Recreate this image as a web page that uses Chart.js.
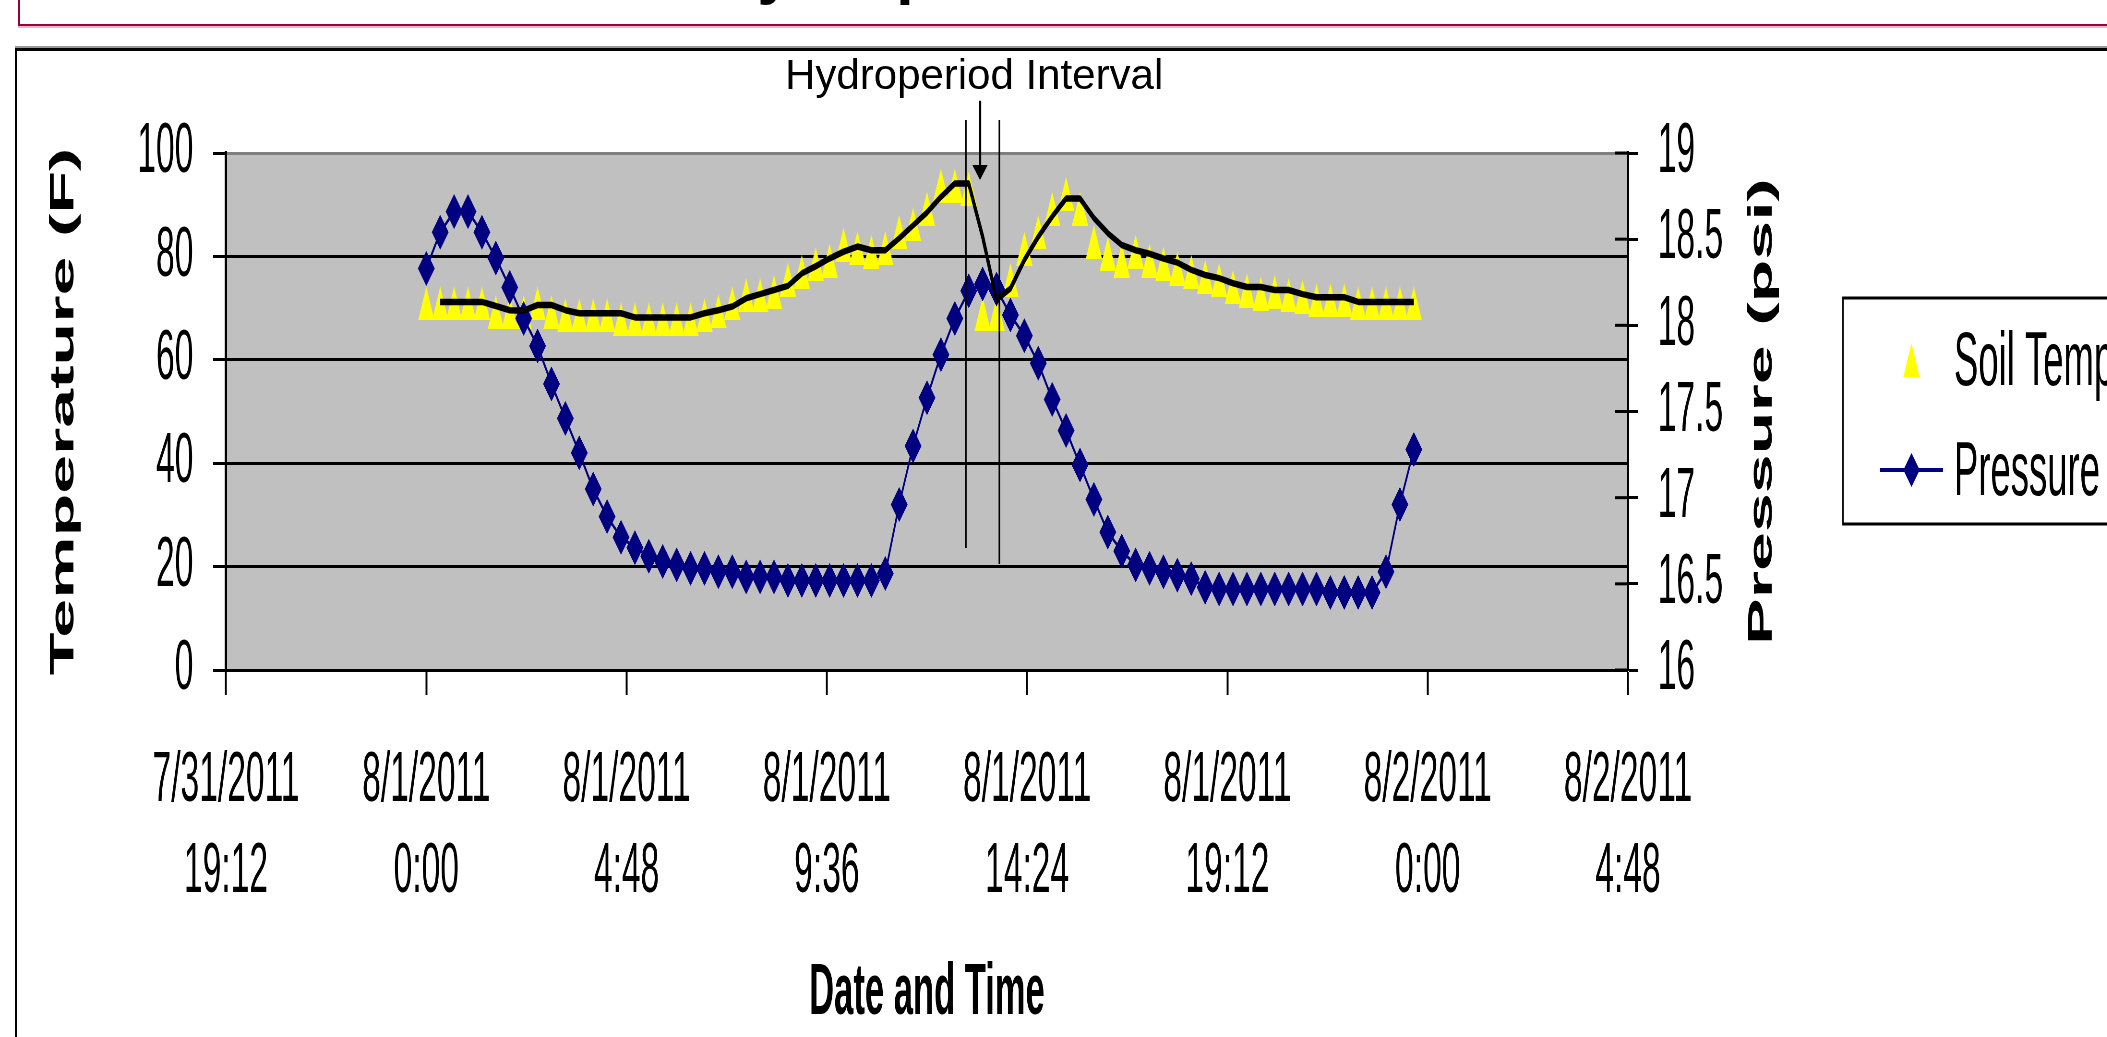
<!DOCTYPE html>
<html><head><meta charset="UTF-8"><title>Hydroperiod</title>
<script src="https://cdn.jsdelivr.net/npm/chart.js@4.4.1/dist/chart.umd.min.js"></script>
<style>
    html, body { margin: 0; background: #fff; overflow: hidden; width: 2107px; height: 1037px; }
    .titlebox { position: absolute; left: 18px; top: 0; width: 2200px; height: 24px; border-left: 2px solid #99003d; border-bottom: 2px solid #99003d; box-shadow: 0 2px 0 #e8b8c8; }
    .maintitle { position: absolute; left: 711px; top: -62px; font: bold 64px 'Liberation Sans', Arial, sans-serif; line-height: 64px; white-space: nowrap; }
    .shade { position: absolute; left: 15px; top: 46px; width: 2200px; height: 2px; background: #9a9a9a; }
    .frame { position: absolute; left: 15px; top: 48px; width: 2200px; height: 1100px; border-top: 3px solid #000; border-left: 2px solid #000; }
    #wrap { position: absolute; left: 0; top: 0; transform-origin: 0 0; }
</style></head><body>

<div class="titlebox"></div>
<div class="maintitle">Hydroperiod</div>
<div class="shade"></div>
<div class="frame"></div>
<div id="wrap"><canvas id="c"></canvas></div>

<script>
// the original chart is squeezed sideways, so the canvas is drawn wide and scaled down in x
const S = 0.48;
const W = Math.ceil(2107 / S), H = 1037;
const FONT = "'Liberation Sans', Arial, sans-serif";

// readings every 20 minutes on 8/1/2011
const times = ['0:00','0:20','0:40','1:00','1:20','1:40','2:00','2:20','2:40','3:00','3:20','3:40',
    '4:00','4:20','4:40','5:00','5:20','5:40','6:00','6:20','6:40','7:00','7:20','7:40',
    '8:00','8:20','8:40','9:00','9:20','9:40','10:00','10:20','10:40','11:00','11:20','11:40',
    '12:00','12:20','12:40','13:00','13:20','13:40','14:00','14:20','14:40','15:00','15:20','15:40',
    '16:00','16:20','16:40','17:00','17:20','17:40','18:00','18:20','18:40','19:00','19:20','19:40',
    '20:00','20:20','20:40','21:00','21:20','21:40','22:00','22:20','22:40','23:00','23:20','23:40'];

const soilTemp = [70.9, 70.9, 70.9, 70.9, 70.9, 69.2, 69.2, 69.2, 70.9, 69.2,
    68.6, 68.6, 68.6, 68.6, 67.8, 67.8, 67.8, 67.8, 67.8, 67.8,
    68.6, 69.4, 70.9, 72.5, 72.5, 73.1, 75.5, 77.0, 78.5, 79.2,
    82.3, 81.6, 80.9, 81.6, 84.7, 86.2, 89.2, 93.7, 93.7, 93.1,
    68.9, 68.9, 75.4, 81.5, 84.7, 89.2, 92.1, 89.2, 82.8, 80.5,
    79.2, 80.9, 79.2, 78.6, 77.6, 77.0, 76.0, 75.4, 74.1, 73.4,
    72.8, 73.1, 72.5, 72.2, 71.5, 71.5, 71.5, 70.9, 70.9, 70.9,
    70.9, 70.9];

// black moving-average trend of the soil temperature
const tempTrend = [null, 71.2, 71.2, 71.2, 71.2, 70.4, 69.6, 69.5, 70.6, 70.6,
    69.6, 69.0, 69.0, 69.0, 69.0, 68.2, 68.2, 68.2, 68.2, 68.2,
    69.0, 69.6, 70.3, 71.9, 72.7, 73.5, 74.3, 76.7, 78.1, 79.6,
    80.9, 81.9, 81.2, 81.2, 83.5, 86.0, 88.5, 91.5, 94.1, 94.1,
    83.8, 71.6, 73.8, 79.3, 83.8, 87.7, 91.2, 91.2, 87.4, 84.5,
    82.2, 81.2, 80.5, 79.6, 78.8, 77.4, 76.4, 75.8, 74.8, 74.1,
    74.1, 73.5, 73.5, 72.7, 72.1, 72.1, 72.1, 71.2, 71.2, 71.2,
    71.2, 71.2];

const pressure = [18.33, 18.54, 18.66, 18.66, 18.54, 18.39, 18.22, 18.04, 17.88, 17.66,
    17.46, 17.26, 17.05, 16.89, 16.77, 16.71, 16.66, 16.63, 16.61, 16.59,
    16.59, 16.57, 16.57, 16.54, 16.54, 16.54, 16.52, 16.52, 16.52, 16.52,
    16.52, 16.52, 16.52, 16.56, 16.96, 17.30, 17.58, 17.83, 18.04, 18.20,
    18.24, 18.21, 18.06, 17.94, 17.78, 17.57, 17.39, 17.19, 16.99, 16.80,
    16.69, 16.61, 16.59, 16.57, 16.55, 16.53, 16.48, 16.47, 16.47, 16.47,
    16.47, 16.47, 16.47, 16.47, 16.47, 16.45, 16.45, 16.45, 16.45, 16.57,
    16.96, 17.28];

const xTickDates = ['7/31/2011','8/1/2011','8/1/2011','8/1/2011','8/1/2011','8/1/2011','8/2/2011','8/2/2011'];
const xTickTimes = ['19:12','0:00','4:48','9:36','14:24','19:12','0:00','4:48'];

// hydroperiod note, in hours after 8/1 0:00 and in deg F
const hydro = { start: 12.93, end: 13.735, lineTop: 106.4, startBottom: 23.6, endBottom: 20.5,
    arrowAt: 13.27, arrowTop: 110.1, arrowHead: 97.7, arrowTip: 94.8, labelAt: 13.13, labelY: 112.4 };

const hours = times.map(t => { const [h, m] = t.split(':'); return Number(h) + Number(m) / 60; });
const pts = arr => hours.map((h, i) => ({ x: h, y: arr[i] }));

// yellow triangle marker
const tri = document.createElement('canvas');
tri.width = 34; tri.height = 34;
const tc = tri.getContext('2d');
tc.fillStyle = '#ffff00';
tc.beginPath(); tc.moveTo(17, 0); tc.lineTo(34, 34); tc.lineTo(0, 34); tc.closePath(); tc.fill();

const decor = {
    id: 'decor',
    beforeDraw(chart) {
        const { ctx, chartArea: a } = chart;
        ctx.save();
        ctx.fillStyle = '#c0c0c0';
        ctx.fillRect(a.left, a.top, a.right - a.left, a.bottom - a.top);
        ctx.restore();
    },
    afterDraw(chart) {
        const { ctx, scales: { x, y, y2 } } = chart;
        ctx.save();

        // pressure axis ticks cross the axis line
        ctx.strokeStyle = '#000'; ctx.lineWidth = 3;
        y2.ticks.forEach(t => {
            const py = y2.getPixelForValue(t.value);
            ctx.beginPath(); ctx.moveTo(y2.left - 27, py); ctx.lineTo(y2.left, py); ctx.stroke();
        });

        // right axis title reads bottom to top
        ctx.save();
        ctx.translate(y2.left + 280, (y2.top + y2.bottom) / 2);
        ctx.rotate(-Math.PI / 2);
        ctx.fillStyle = '#000'; ctx.font = 'bold 70px ' + FONT;
        ctx.textAlign = 'center'; ctx.textBaseline = 'middle';
        ctx.fillText('Pressure (psi)', 0, 0);
        ctx.restore();

        // hydroperiod interval lines + arrow
        ctx.strokeStyle = '#000'; ctx.lineWidth = 3.5;
        [[hydro.start, hydro.startBottom], [hydro.end, hydro.endBottom]].forEach(([h, b]) => {
            const px = x.getPixelForValue(h);
            ctx.beginPath(); ctx.moveTo(px, y.getPixelForValue(hydro.lineTop)); ctx.lineTo(px, y.getPixelForValue(b)); ctx.stroke();
        });
        const ax = x.getPixelForValue(hydro.arrowAt);
        ctx.lineWidth = 5;
        ctx.beginPath(); ctx.moveTo(ax, y.getPixelForValue(hydro.arrowTop)); ctx.lineTo(ax, y.getPixelForValue(hydro.arrowHead)); ctx.stroke();
        ctx.fillStyle = '#000';
        ctx.beginPath();
        ctx.moveTo(ax - 16, y.getPixelForValue(hydro.arrowHead));
        ctx.lineTo(ax + 16, y.getPixelForValue(hydro.arrowHead));
        ctx.lineTo(ax, y.getPixelForValue(hydro.arrowTip));
        ctx.closePath(); ctx.fill();

        // the note text is not squeezed in the original
        ctx.save();
        ctx.translate(x.getPixelForValue(hydro.labelAt), y.getPixelForValue(hydro.labelY));
        ctx.scale(1 / S, 1);
        ctx.font = '42px ' + FONT; ctx.textAlign = 'center'; ctx.textBaseline = 'alphabetic';
        ctx.fillText('Hydroperiod Interval', 0, 0);
        ctx.restore();

        // legend box
        const lx = 1843 / S, mx = 1911.5 / S;
        ctx.lineWidth = 3; ctx.strokeStyle = '#000';
        ctx.strokeRect(lx, 298, W, 226);
        ctx.drawImage(tri, mx - 17, 360 - 17);
        ctx.strokeStyle = '#000080'; ctx.lineWidth = 4;
        ctx.beginPath(); ctx.moveTo(1880 / S, 470); ctx.lineTo(1943 / S, 470); ctx.stroke();
        ctx.fillStyle = '#000080';
        ctx.beginPath(); ctx.moveTo(mx, 453); ctx.lineTo(mx + 17, 470); ctx.lineTo(mx, 487); ctx.lineTo(mx - 17, 470); ctx.closePath(); ctx.fill();
        ctx.fillStyle = '#000'; ctx.font = '76px ' + FONT; ctx.textAlign = 'left'; ctx.textBaseline = 'alphabetic';
        ctx.fillText(chart.data.datasets[0].label, 1954 / S, 385);
        ctx.fillText(chart.data.datasets[2].label, 1954 / S, 495);
        ctx.restore();
    }
};

const cv = document.getElementById('c');
cv.width = W; cv.height = H;
cv.style.width = W + 'px'; cv.style.height = H + 'px';
document.getElementById('wrap').style.transform = 'scaleX(' + S + ')';

new Chart(cv, {
    type: 'line',
    data: {
        datasets: [
            { label: 'Soil Temperature', data: pts(soilTemp), yAxisID: 'y', showLine: false,
              pointStyle: tri, pointRadius: 17, order: 3 },
            { label: 'Trend', data: pts(tempTrend), yAxisID: 'y', borderColor: '#000', borderWidth: 6.5,
              borderJoinStyle: 'round', pointRadius: 0, tension: 0, order: 1 },
            { label: 'Pressure', data: pts(pressure), yAxisID: 'y2', borderColor: '#000080', borderWidth: 3.5,
              pointStyle: 'rectRot', pointRadius: 17, pointBackgroundColor: '#000080', pointBorderColor: '#000080',
              pointBorderWidth: 1, tension: 0, order: 2 }
        ]
    },
    options: {
        responsive: false, animation: false, events: [], devicePixelRatio: 1,
        layout: { padding: { top: 153, left: 0, bottom: 0, right: W - 1628 / S - 400 } },
        plugins: { legend: { display: false }, tooltip: { enabled: false } },
        scales: {
            x: {
                type: 'linear', min: -4.8, max: 28.8,
                ticks: { stepSize: 4.8, autoSkip: false, maxRotation: 0, color: '#000', padding: 41.5,
                         font: { family: FONT, size: 70, lineHeight: 1.3 },
                         callback: (v, i) => [xTickDates[i], xTickTimes[i]] },
                grid: { drawOnChartArea: false, tickLength: 25, tickWidth: 4, tickColor: '#000' },
                border: { color: '#000', width: 3 },
                title: { display: true, text: 'Date and Time', color: '#000', padding: 0,
                         font: { family: FONT, size: 72, weight: 'bold' } },
                afterFit: s => { s.height = H - 670; }
            },
            y: {
                position: 'left', min: 0, max: 100,
                ticks: { stepSize: 20, autoSkip: false, color: '#000', padding: 41, font: { family: FONT, size: 70 }, callback: v => String(v) },
                grid: { color: c => (c.tick && c.tick.value === 100 ? '#808080' : '#000'), lineWidth: 3,
                        tickLength: 27, tickWidth: 3, tickColor: '#000' },
                border: { color: '#000', width: 5 },
                title: { display: true, text: 'Temperature (F)', color: '#000', padding: { top: 92, bottom: 0 },
                         font: { family: FONT, size: 70, weight: 'bold' } },
                afterFit: s => { s.width = 226 / S; }
            },
            y2: {
                position: 'right', min: 16, max: 19,
                ticks: { stepSize: 0.5, autoSkip: false, color: '#000', padding: 41, font: { family: FONT, size: 70 }, callback: v => String(v) },
                grid: { drawOnChartArea: false, tickLength: 21, tickWidth: 3, tickColor: '#000' },
                border: { color: '#000', width: 5 },
                afterFit: s => { s.width = 400; }
            }
        }
    },
    plugins: [decor]
});
</script></body></html>
